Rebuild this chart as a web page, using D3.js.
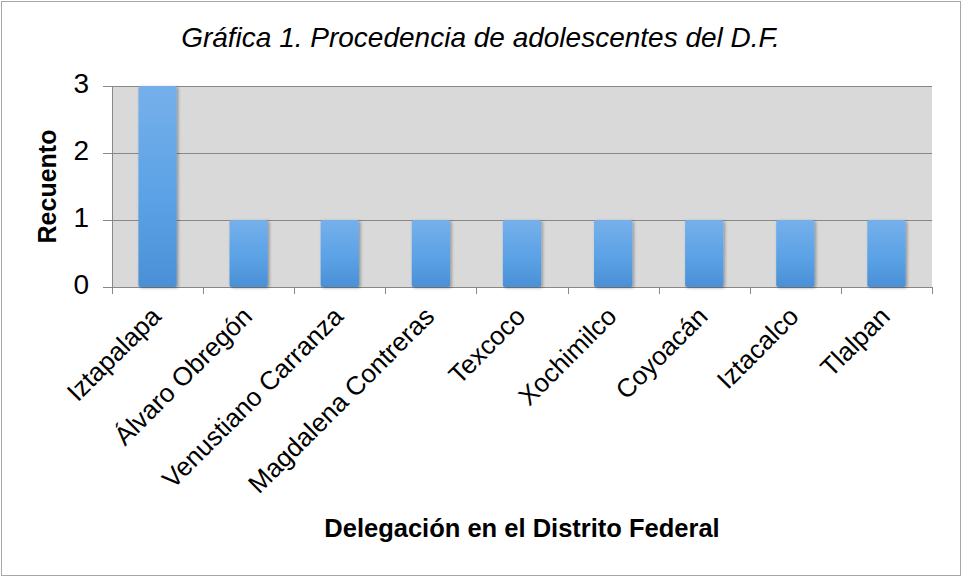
<!DOCTYPE html>
<html>
<head>
<meta charset="utf-8">
<script src="https://cdn.jsdelivr.net/npm/d3@7"></script>
<style>
  body { margin: 0; background: #fff; }
  svg { display: block; font-family: Arial, "Liberation Sans", sans-serif; }
</style>
</head>
<body>
<div id="viz"></div>
<script>
let w = 961;
let h = 577;

let delegaciones = ["Iztapalapa", "Álvaro Obregón", "Venustiano Carranza", "Magdalena Contreras",
  "Texcoco", "Xochimilco", "Coyoacán", "Iztacalco", "Tlalpan"];
let recuento = [3, 1, 1, 1, 1, 1, 1, 1, 1];
let yTicks = [0, 1, 2, 3];

let plotLeft = 112, plotRight = 932, plotTop = 86, plotBottom = 287;

let viz = d3.select("#viz").append("svg")
  .attr("width", w).attr("height", h);

// outer border
viz.append("rect")
  .attr("x", 1.5).attr("y", 1.5).attr("width", w - 2).attr("height", h - 3)
  .attr("fill", "#fff").attr("stroke", "#a6a6a6").attr("stroke-width", 1);

let defs = viz.append("defs");
let grad = defs.append("linearGradient").attr("id", "barGrad")
  .attr("x1", 0).attr("y1", 0).attr("x2", 0).attr("y2", 1);
grad.append("stop").attr("offset", "0%").attr("stop-color", "#76b0eb");
grad.append("stop").attr("offset", "55%").attr("stop-color", "#5ba2e6");
grad.append("stop").attr("offset", "100%").attr("stop-color", "#4a90d6");

let shadow = defs.append("filter").attr("id", "shadow")
  .attr("x", "-30%").attr("y", "-10%").attr("width", "160%").attr("height", "120%");
shadow.append("feDropShadow").attr("dx", 1.5).attr("dy", 1).attr("stdDeviation", 1.5)
  .attr("flood-color", "#000").attr("flood-opacity", 0.35);

let x = d3.scaleBand().domain(delegaciones).range([plotLeft, plotRight])
  .paddingInner(0.58).paddingOuter(0.29);
let xTicks = d3.scaleBand().domain(delegaciones).range([plotLeft, plotRight]);
let y = d3.scaleLinear().domain([0, 3]).range([plotBottom, plotTop]);

// plot background
viz.append("rect")
  .attr("x", plotLeft).attr("y", plotTop)
  .attr("width", plotRight - plotLeft).attr("height", plotBottom - plotTop)
  .attr("fill", "#d9d9d9");

// gridlines
viz.append("g").selectAll("line").data(yTicks).join("line")
  .attr("x1", plotLeft - 9).attr("x2", plotRight)
  .attr("y1", d => Math.round(y(d)) + 0.5).attr("y2", d => Math.round(y(d)) + 0.5)
  .attr("stroke", "#888").attr("stroke-width", 1);

// y axis line
viz.append("line")
  .attr("x1", plotLeft + 0.5).attr("x2", plotLeft + 0.5).attr("y1", plotTop).attr("y2", plotBottom)
  .attr("stroke", "#888");

// x ticks at band boundaries
let bounds = delegaciones.map(d => xTicks(d)).concat([plotRight]);
viz.append("g").selectAll("line").data(bounds).join("line")
  .attr("x1", d => Math.round(d) + 0.5).attr("x2", d => Math.round(d) + 0.5)
  .attr("y1", plotBottom).attr("y2", plotBottom + 7)
  .attr("stroke", "#888");

// bars
viz.append("g").selectAll("rect").data(recuento).join("rect")
  .attr("x", (d, i) => x(delegaciones[i]))
  .attr("y", d => y(d))
  .attr("width", x.bandwidth())
  .attr("height", d => y(0) - y(d))
  .attr("rx", 2)
  .attr("fill", "url(#barGrad)")
  .attr("filter", "url(#shadow)");

// y tick labels
viz.append("g").selectAll("text").data(yTicks).join("text")
  .attr("x", 89).attr("y", d => y(d) + 6.5)
  .attr("text-anchor", "end")
  .attr("font-size", "28px")
  .text(d => d);

// category labels
viz.append("g").selectAll("text").data(delegaciones).join("text")
  .attr("transform", d => "translate(" + (xTicks(d) + xTicks.bandwidth() / 2 + 5) + "," + (plotBottom + 31) + ") rotate(-45)")
  .attr("text-anchor", "end")
  .attr("font-size", "26px")
  .text(d => d);

// titles
viz.append("text")
  .attr("x", w / 2).attr("y", 47)
  .attr("text-anchor", "middle")
  .attr("font-size", "28px")
  .attr("font-style", "italic")
  .text("Gráfica 1. Procedencia de adolescentes del D.F.");

viz.append("text")
  .attr("transform", "translate(56," + ((plotTop + plotBottom) / 2) + ") rotate(-90)")
  .attr("text-anchor", "middle")
  .attr("font-size", "25px")
  .attr("font-weight", "bold")
  .text("Recuento");

viz.append("text")
  .attr("x", (plotLeft + plotRight) / 2).attr("y", 537)
  .attr("text-anchor", "middle")
  .attr("font-size", "25.5px")
  .attr("font-weight", "bold")
  .text("Delegación en el Distrito Federal");
</script>
</body>
</html>
